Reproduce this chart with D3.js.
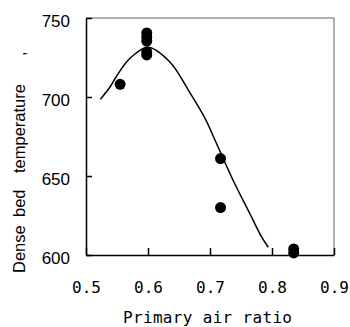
<!DOCTYPE html>
<html>
<head>
<meta charset="utf-8">
<script src="https://cdn.jsdelivr.net/npm/d3@7"></script>
<style>
    body { margin: 0; background: #fff; }
    svg { display: block; }
</style>
</head>
<body>
<div id="chart"></div>
<script>
    // measured points
    const airRatio = [0.555, 0.598, 0.598, 0.598, 0.598, 0.598, 0.717, 0.717, 0.835, 0.835];
    const bedTemp = [708, 740.5, 738, 735.4, 728.5, 726.6, 661, 630, 603.8, 601.3];

    // model curve
    const curveRatio = [0.523, 0.539, 0.549, 0.571, 0.600, 0.635, 0.665, 0.692, 0.708, 0.737, 0.764, 0.783, 0.794];
    const curveTemp = [698.5, 706.5, 713, 724.5, 731.5, 722.3, 704.4, 686.5, 672.8, 647.5, 626.4, 611.6, 604.9];

    const xTicks = [0.5, 0.6, 0.7, 0.8, 0.9];
    const yTicks = [600, 650, 700, 750];
    const yTitleWords = ['Dense', 'bed', 'temperature', ','];

    const width = 350, height = 327;
    const plot = {left: 86, right: 334, top: 18, bottom: 255};
    const monoFont = '"DejaVu Sans Mono", "Liberation Mono", monospace';
    const sansFont = '"Liberation Sans", Arial, sans-serif';

    const svg = d3.select('#chart')
        .append('svg')
        .attr('width', width)
        .attr('height', height);

    const x = d3.scaleLinear().domain([0.5, 0.9]).range([plot.left, plot.right]);
    const y = d3.scaleLinear().domain([600, 750]).range([plot.bottom, plot.top]);

    // top / right frame in grey
    svg.append('path')
        .attr('d', `M${plot.left},${plot.top}H${plot.right}V${plot.bottom}`)
        .attr('fill', 'none')
        .attr('stroke', '#999')
        .attr('stroke-width', 1.5);

    const xAxis = svg.append('g')
        .attr('transform', `translate(0,${plot.bottom})`)
        .call(d3.axisBottom(x).tickValues(xTicks).tickFormat(d3.format('.1f'))
            .tickSizeInner(-7).tickSizeOuter(0).tickPadding(27));
    xAxis.selectAll('text')
        .style('font-family', monoFont)
        .style('font-size', '16px')
        .attr('fill', '#000');

    const yAxis = svg.append('g')
        .attr('transform', `translate(${plot.left},0)`)
        .call(d3.axisLeft(y).tickValues(yTicks)
            .tickSizeInner(-6).tickSizeOuter(0).tickPadding(16));
    yAxis.selectAll('text')
        .attr('dy', '0.5em')
        .style('font-family', sansFont)
        .style('font-size', '17px')
        .attr('fill', '#000');

    svg.selectAll('.domain, .tick line')
        .attr('stroke', '#000')
        .attr('stroke-width', 1.5);

    const line = d3.line()
        .x((d, i) => x(curveRatio[i]))
        .y((d, i) => y(curveTemp[i]))
        .curve(d3.curveCatmullRom);

    svg.append('path')
        .datum(curveTemp)
        .attr('d', line)
        .attr('fill', 'none')
        .attr('stroke', '#000')
        .attr('stroke-width', 1.5);

    svg.selectAll('.dot')
        .data(bedTemp)
        .enter().append('circle')
        .attr('class', 'dot')
        .attr('cx', (d, i) => x(airRatio[i]))
        .attr('cy', (d) => y(d))
        .attr('r', 5.5)
        .attr('fill', '#000');

    svg.append('text')
        .attr('x', 207.5)
        .attr('y', 323)
        .attr('text-anchor', 'middle')
        .attr('textLength', 169)
        .style('font-family', monoFont)
        .style('font-size', '16px')
        .text('Primary air ratio');

    // y title, words spread out as in the original
    const wordOffsets = [0, 56, 100, 217];
    svg.append('text')
        .attr('transform', 'translate(24.5,273) rotate(-90)')
        .style('font-family', sansFont)
        .style('font-size', '16.5px')
        .selectAll('tspan')
        .data(yTitleWords)
        .enter().append('tspan')
        .attr('x', (d, i) => wordOffsets[i])
        .text((d) => d);
</script>
</body>
</html>
